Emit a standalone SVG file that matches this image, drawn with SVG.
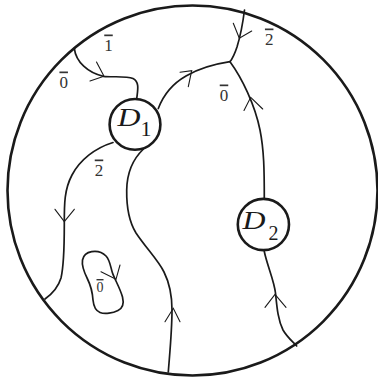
<svg xmlns="http://www.w3.org/2000/svg" width="378" height="383" viewBox="0 0 378 383">
<style>
.bd{fill:none;stroke:#1a1a1a;stroke-width:2.6}
.ln{fill:none;stroke:#1a1a1a;stroke-width:1.7;stroke-linecap:round;stroke-linejoin:round}
.ar{fill:none;stroke:#1a1a1a;stroke-width:1.1;stroke-linecap:round;stroke-linejoin:miter}
.lb{font-family:"Liberation Serif",serif;font-size:17px;fill:#333;text-anchor:middle;text-decoration:overline}
.sm{font-size:14px}
.dn{font-family:"Liberation Serif",serif;fill:#1a1a1a}
</style>
<rect width="378" height="383" fill="#fff"/>
<g id="boundary"><circle class="bd" cx="192.5" cy="190.5" r="185"/></g>
<g id="connectors">
<path class="ln" d="M74.3,48.3 C76,62 88,73 103.5,76.3 C112,77.5 126,75.5 133,78.5 C140,82 137.5,91 136.8,98"/>
<path class="ln" d="M158.3,108.5 C163,96 172,84 186,76 C198,69 215,64 230,61.7"/>
<path class="ln" d="M244.5,10 C243,22 241,34 237,47 C235,53 233,58 230,61.7"/>
<path class="ln" d="M230,61.7 C242,78 255,105 260,130 C264,150 264.3,170 264.3,198.5"/>
<path class="ln" d="M264.3,251.5 C267,265 274,280 275.5,293 C277,308 278,320 283,330 C287,337 292,341 296.7,346"/>
<path class="ln" d="M113,142.5 C95,148 80,160 72,175 C64,190 64.3,205 64.3,225 C64.3,245 64,265 61,278 C58,288 52,294 45,299"/>
<path class="ln" d="M143.5,149 C134,158 127,172 126.7,190 C126.5,205 128,220 136,233 C146,248 158,260 164,272 C170,284 172,296 172,310 C172,330 170,350 168.3,372"/>
<path class="ln" d="M91.7,251.7 C96,251 102,252 106,256 C110,260 110.5,267 112.5,273 C115,280 120,288 122.5,297 C124,303 123,308 118,310.5 C113,313 105,314.5 100,312.5 C95,310.5 93.5,305 93,300 C92.5,293 91,286 87.5,279 C84,272 81.5,266 82.5,260 C83.5,255 87,252.5 91.7,251.7 Z"/>
<path class="ar" d="M96.5,62 L104,76.3 L90,81"/>
<path class="ar" d="M180,72.3 L191.7,70.7 L188.3,86.7"/>
<path class="ar" d="M233.3,23.3 L239.3,38.3 L251.7,31"/>
<path class="ar" d="M244,110.5 L250.7,97.3 L262.7,109"/>
<path class="ar" d="M265,307.3 L275,294.3 L286,307.3"/>
<path class="ar" d="M55,209.3 L64.3,221.7 L74.3,209.3"/>
<path class="ar" d="M165,321.7 L173.3,308.3 L180,321.7"/>
<path class="ar" d="M101,271.7 L116,279.3 L120,265"/>
</g>
<g id="D1">
<circle class="bd" cx="135" cy="124.4" r="25.4"/>
<text class="dn" x="117.5" y="125.5" font-size="26" font-style="italic" textLength="23" lengthAdjust="spacingAndGlyphs">D</text>
<text class="dn" x="140.5" y="135.5" font-size="22">1</text>
</g>
<g id="D2">
<circle class="bd" cx="263.4" cy="224.5" r="25.6"/>
<text class="dn" x="242.5" y="229" font-size="26" font-style="italic" textLength="23" lengthAdjust="spacingAndGlyphs">D</text>
<text class="dn" x="268.5" y="240" font-size="20">2</text>
</g>
<g id="labels">
<text class="lb" x="108.5" y="50.5">1</text>
<text class="lb" x="63.7" y="87.5">0</text>
<text class="lb" x="269.2" y="44.5">2</text>
<text class="lb" x="224" y="100.5">0</text>
<text class="lb" x="99" y="175.5">2</text>
<text class="lb sm" x="100" y="292">0</text>
</g>
</svg>
